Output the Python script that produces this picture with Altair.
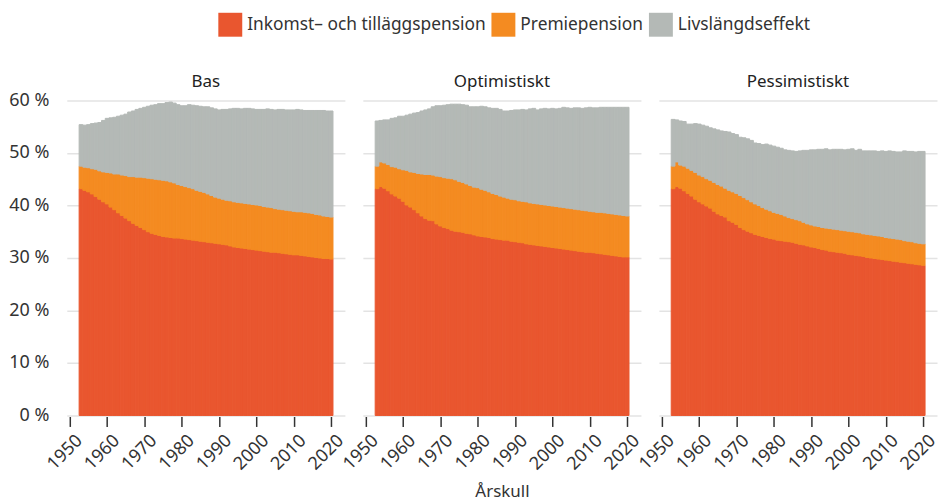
import altair as alt
import pandas as pd

years = list(range(1953, 2021))
scenarios = ["Bas", "Optimistiskt", "Pessimistiskt"]
categories = ["Inkomst– och tilläggspension", "Premiepension", "Livslängdseffekt"]
colors = ["#E9562F", "#F48B21", "#B4B9B6"]

# Top of each stacked segment (percent), per birth cohort 1953..2020
bas_inkomst = [43.2, 42.9, 42.6, 42.2, 41.7, 41.2, 40.7, 40.3, 39.7, 39.2, 38.6, 38.1, 37.6, 37.1, 36.6, 36.2,
               35.8, 35.4, 35.0, 34.7, 34.5, 34.3, 34.1, 34.0, 33.9, 33.8, 33.8, 33.7, 33.6, 33.5, 33.4, 33.3,
               33.2, 33.1, 33.0, 32.9, 32.8, 32.7, 32.6, 32.5, 32.3, 32.1, 32.0, 31.9, 31.8, 31.7, 31.6, 31.5,
               31.4, 31.3, 31.2, 31.1, 31.1, 31.0, 30.9, 30.8, 30.7, 30.6, 30.6, 30.5, 30.4, 30.3, 30.2, 30.1,
               30.0, 29.9, 29.9, 29.8]
bas_premie = [47.5, 47.3, 47.2, 47.0, 46.9, 46.6, 46.4, 46.3, 46.2, 46.0, 46.0, 45.8, 45.7, 45.5, 45.5, 45.4,
              45.4, 45.3, 45.2, 45.1, 45.0, 44.9, 44.8, 44.7, 44.5, 44.3, 44.0, 43.8, 43.6, 43.4, 43.2, 42.9,
              42.7, 42.5, 42.2, 41.9, 41.6, 41.4, 41.2, 41.0, 40.9, 40.7, 40.6, 40.5, 40.4, 40.3, 40.2, 40.1,
              40.0, 39.8, 39.7, 39.6, 39.4, 39.3, 39.2, 39.1, 39.0, 38.9, 38.8, 38.8, 38.7, 38.6, 38.5, 38.3,
              38.2, 38.0, 37.9, 37.8]
bas_livslangd = [55.4, 55.3, 55.4, 55.6, 55.7, 55.8, 56.2, 56.6, 56.7, 56.8, 57.0, 57.2, 57.4, 57.8, 58.0, 58.3,
                 58.5, 58.7, 58.9, 59.1, 59.2, 59.4, 59.4, 59.6, 59.7, 59.5, 59.2, 59.0, 59.0, 59.2, 59.1, 59.0,
                 58.9, 58.8, 58.8, 58.6, 58.4, 58.2, 58.3, 58.3, 58.4, 58.5, 58.5, 58.4, 58.5, 58.5, 58.4, 58.3,
                 58.3, 58.3, 58.4, 58.3, 58.2, 58.3, 58.3, 58.2, 58.2, 58.2, 58.3, 58.2, 58.1, 58.1, 58.1, 58.1,
                 58.1, 58.1, 58.0, 58.0]

opt_inkomst = [43.2, 43.6, 43.3, 42.8, 42.2, 41.8, 41.4, 40.8, 40.1, 39.7, 39.2, 38.6, 38.0, 37.5, 37.2, 37.1,
               36.5, 36.1, 35.8, 35.6, 35.3, 35.1, 35.0, 34.9, 34.7, 34.6, 34.4, 34.2, 34.1, 34.0, 33.9, 33.7,
               33.6, 33.5, 33.4, 33.4, 33.2, 33.1, 33.0, 32.9, 32.7, 32.6, 32.5, 32.4, 32.3, 32.2, 32.1, 32.0,
               31.9, 31.8, 31.7, 31.6, 31.5, 31.4, 31.3, 31.2, 31.1, 31.1, 31.0, 30.9, 30.8, 30.7, 30.6, 30.5,
               30.4, 30.3, 30.2, 30.2]
opt_premie = [47.5, 48.3, 48.1, 47.8, 47.4, 47.3, 47.0, 46.8, 46.7, 46.4, 46.3, 46.1, 46.0, 45.9, 45.9, 45.8,
              45.6, 45.5, 45.3, 45.2, 45.1, 44.9, 44.6, 44.4, 44.1, 43.8, 43.5, 43.4, 43.1, 42.9, 42.6, 42.3,
              42.1, 41.8, 41.6, 41.4, 41.2, 41.1, 40.9, 40.8, 40.7, 40.5, 40.4, 40.3, 40.2, 40.1, 40.0, 39.9,
              39.8, 39.7, 39.6, 39.5, 39.4, 39.3, 39.2, 39.1, 39.0, 38.9, 38.8, 38.7, 38.7, 38.6, 38.5, 38.4,
              38.3, 38.2, 38.1, 38.0]
opt_livslangd = [56.1, 56.2, 56.3, 56.3, 56.6, 56.7, 57.0, 57.0, 57.2, 57.4, 57.6, 57.7, 58.0, 58.2, 58.4, 58.8,
                 59.0, 59.0, 59.1, 59.2, 59.3, 59.3, 59.3, 59.2, 59.1, 58.8, 58.8, 58.8, 58.9, 58.8, 58.6, 58.5,
                 58.5, 58.3, 58.0, 58.0, 58.1, 58.2, 58.2, 58.3, 58.2, 58.4, 58.5, 58.2, 58.4, 58.5, 58.4, 58.5,
                 58.4, 58.5, 58.7, 58.6, 58.5, 58.6, 58.6, 58.5, 58.6, 58.7, 58.6, 58.6, 58.7, 58.7, 58.7, 58.7,
                 58.7, 58.7, 58.7, 58.7]

pess_inkomst = [43.2, 43.6, 43.3, 42.8, 42.3, 41.8, 41.2, 40.7, 40.3, 39.9, 39.5, 38.9, 38.4, 38.1, 37.8, 37.1,
                36.8, 36.4, 35.8, 35.4, 35.1, 34.8, 34.5, 34.3, 34.1, 33.9, 33.7, 33.6, 33.4, 33.3, 33.2, 33.1,
                33.0, 32.8, 32.6, 32.5, 32.3, 32.1, 32.0, 31.8, 31.6, 31.5, 31.3, 31.2, 31.1, 31.0, 30.9, 30.7,
                30.6, 30.5, 30.4, 30.3, 30.1, 30.0, 29.9, 29.8, 29.7, 29.6, 29.5, 29.4, 29.3, 29.2, 29.1, 29.0,
                28.9, 28.8, 28.7, 28.6]
pess_premie = [47.5, 48.3, 47.7, 47.5, 47.1, 46.7, 46.3, 45.8, 45.5, 45.1, 44.8, 44.4, 44.0, 43.7, 43.3, 42.9,
               42.6, 42.3, 41.9, 41.5, 41.1, 40.7, 40.3, 40.0, 39.6, 39.3, 39.0, 38.7, 38.5, 38.3, 38.0, 37.7,
               37.5, 37.3, 37.1, 36.8, 36.5, 36.3, 36.1, 36.0, 35.8, 35.7, 35.6, 35.5, 35.4, 35.3, 35.2, 35.1,
               35.0, 34.9, 34.8, 34.6, 34.5, 34.4, 34.3, 34.2, 34.1, 33.9, 33.8, 33.7, 33.6, 33.5, 33.3, 33.2,
               33.1, 32.9, 32.8, 32.7]
pess_livslangd = [56.4, 56.3, 56.1, 56.0, 55.5, 55.5, 55.6, 55.5, 55.3, 55.1, 54.8, 54.6, 54.4, 54.2, 54.1, 54.0,
                  53.7, 53.5, 53.0, 52.9, 52.7, 52.4, 51.9, 51.8, 51.6, 51.7, 51.5, 51.3, 51.1, 50.9, 50.6, 50.5,
                  50.4, 50.3, 50.4, 50.5, 50.5, 50.6, 50.6, 50.7, 50.7, 50.8, 50.6, 50.7, 50.7, 50.7, 50.6, 50.7,
                  50.8, 50.5, 50.7, 50.4, 50.4, 50.4, 50.4, 50.3, 50.4, 50.3, 50.4, 50.3, 50.2, 50.2, 50.4, 50.3,
                  50.3, 50.2, 50.3, 50.3]

tops = {
    "Bas": [bas_inkomst, bas_premie, bas_livslangd],
    "Optimistiskt": [opt_inkomst, opt_premie, opt_livslangd],
    "Pessimistiskt": [pess_inkomst, pess_premie, pess_livslangd],
}

rows = []
for sc in scenarios:
    series = tops[sc]
    for i, yr in enumerate(years):
        lo = 0.0
        for k, cat in enumerate(categories):
            hi = series[k][i]
            rows.append({"scenario": sc, "year": yr, "x0": yr - 0.5, "x1": yr + 0.5,
                         "kategori": cat, "order": k, "lo": lo, "hi": hi})
            lo = hi
df = pd.DataFrame(rows)

FONT = "Noto Sans"
color_scale = alt.Scale(domain=categories, range=colors)

base = alt.Chart(df).mark_bar(strokeWidth=1).encode(
    x=alt.X("x0:Q", scale=alt.Scale(domain=[1949.2, 2023.7], nice=False, zero=False),
            axis=alt.Axis(values=[1950, 1960, 1970, 1980, 1990, 2000, 2010, 2020], format="d",
                          labelAngle=-45, labelAlign="right", labelBaseline="top",
                          labelOverlap=False, labelBound=False, labelFlush=False,
                          grid=False, domain=False, tickSize=10, tickColor="#333", tickWidth=1.5,
                          labelFontSize=18, labelColor="#333", labelPadding=5, labelOffset=3,
                          title=None)),
    x2="x1:Q",
    y=alt.Y("lo:Q", scale=alt.Scale(domain=[0, 60], nice=False),
            axis=alt.Axis(values=[0, 10, 20, 30, 40, 50, 60], labelExpr="datum.value + ' %'",
                          domain=False, ticks=False, grid=True, gridColor="#E3E3E3", gridWidth=1.5,
                          labelFontSize=18, labelColor="#333", labelPadding=18, title=None)),
    y2="hi:Q",
    color=alt.Color("kategori:N", scale=color_scale, sort=categories,
                    legend=alt.Legend(title=None, orient="none", direction="horizontal",
                                      legendX=152, legendY=-88,
                                      symbolType="square", symbolSize=576, symbolStrokeWidth=0,
                                      labelFontSize=17.4, labelColor="#333", columnPadding=5,
                                      labelOffset=5, labelLimit=0)),
    stroke=alt.Color("kategori:N", scale=color_scale, legend=None),
    order=alt.Order("order:Q"),
).properties(width=279, height=316)

chart = base.facet(
    column=alt.Column("scenario:N", sort=scenarios, title="Årskull",
                      header=alt.Header(labelOrient="top", titleOrient="bottom",
                                        labelFontSize=17, labelColor="#222", labelPadding=10,
                                        titleFontSize=17, titleColor="#333", titleFontWeight="normal",
                                        titlePadding=1, labelFont=FONT, titleFont=FONT)),
    spacing=18,
).properties(
    padding={"left": 0, "top": 4, "right": 0, "bottom": 0}
).configure(
    font=FONT,
).configure_view(
    stroke=None
)

chart.save("out.html", embed_options={"renderer": "svg", "actions": False})
